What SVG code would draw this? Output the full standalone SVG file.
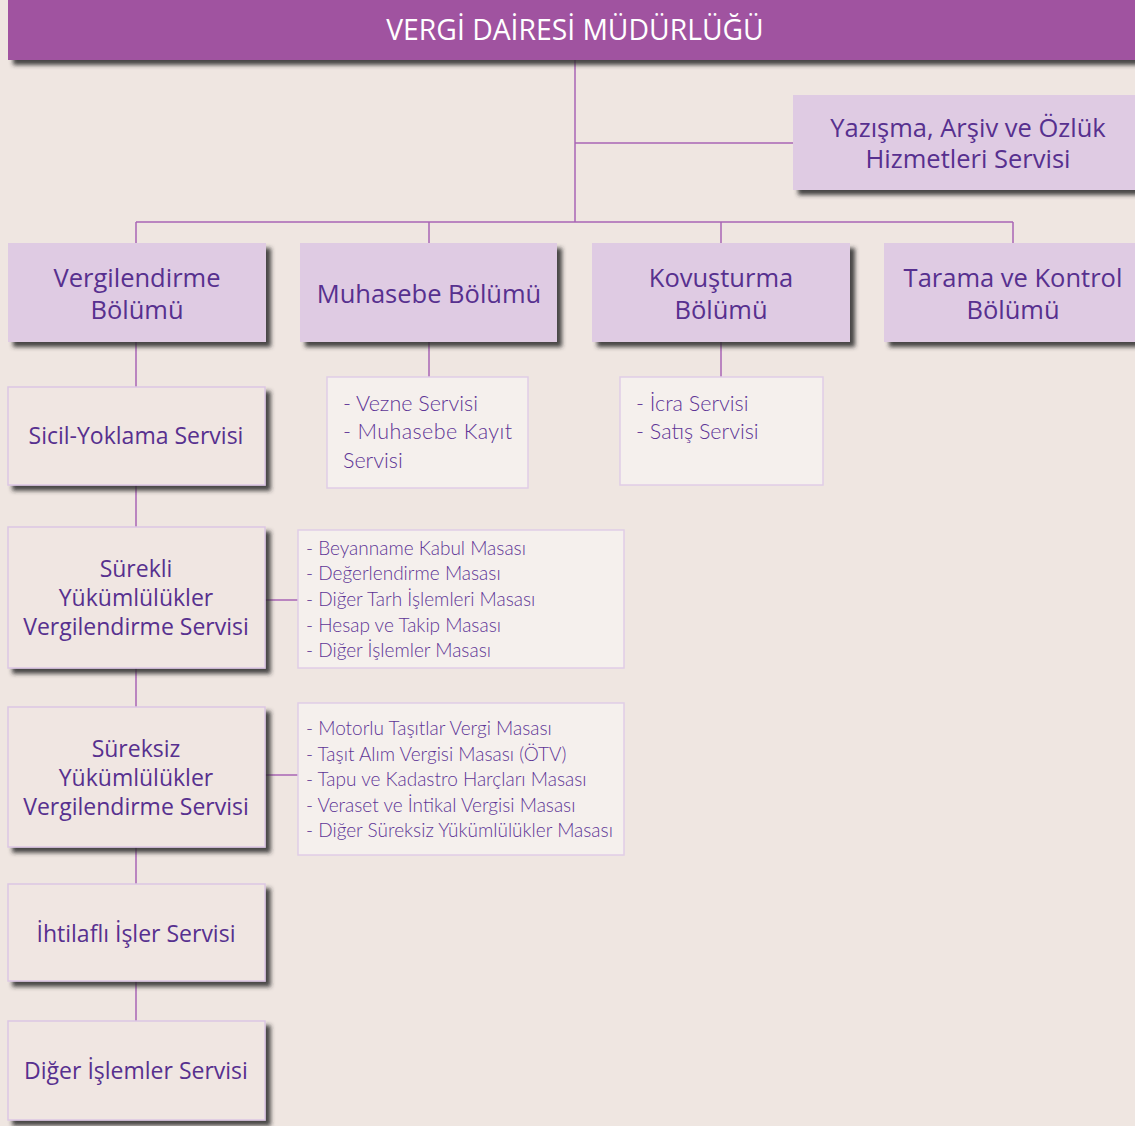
<svg xmlns="http://www.w3.org/2000/svg" width="1135" height="1126" viewBox="0 0 1135 1126">
<defs>
<filter id="sh" x="-5%" y="-10%" width="115%" height="130%">
<feDropShadow dx="5" dy="5" stdDeviation="2" flood-color="#2a2a2a" flood-opacity="0.85"/>
</filter>
<style>
.bg{fill:#efe6e1}
.hdr{fill:#a053a0;filter:url(#sh)}
.dep{fill:#dfcbe3;filter:url(#sh)}
.svc{fill:#f0e6e2;stroke:#dcc6e3;stroke-width:1.5;filter:url(#sh)}
.lst{fill:#f5f0ed;stroke:#e0cde6;stroke-width:1.5}
.t{font-family:"Open Sans","Noto Sans",sans-serif;font-size:23px;fill:#57308f;text-anchor:middle}
.d{font-size:25.5px}
.h{font-family:"Open Sans","Noto Sans",sans-serif;font-size:28.3px;fill:#ffffff;text-anchor:middle}
.l{font-family:Lato,"Noto Sans",sans-serif;font-weight:300;fill:#5e3596}
.l1{font-size:21.5px}
.l2{font-size:19px}
.c line{stroke:#a865b5;stroke-width:1.5}
</style>
</defs>
<rect class="bg" x="0" y="0" width="1135" height="1126"/>
<g class="c" id="connectors">
<line x1="575" y1="60" x2="575" y2="222"/>
<line x1="575" y1="143" x2="793" y2="143"/>
<line x1="136" y1="222" x2="1013" y2="222"/>
<line x1="136" y1="222" x2="136" y2="243"/>
<line x1="429" y1="222" x2="429" y2="243"/>
<line x1="721" y1="222" x2="721" y2="243"/>
<line x1="1013" y1="222" x2="1013" y2="243"/>
<line x1="136" y1="342" x2="136" y2="1021"/>
<line x1="429" y1="342" x2="429" y2="377"/>
<line x1="721" y1="342" x2="721" y2="377"/>
<line x1="265" y1="600" x2="298" y2="600"/>
<line x1="265" y1="775" x2="298" y2="775"/>
</g>
<g id="header"><rect class="hdr" x="8" y="0" width="1130" height="60"/><text class="h" x="575" y="40">VERGİ DAİRESİ MÜDÜRLÜĞÜ</text></g>
<g id="yazisma"><rect class="dep" x="793" y="95" width="345" height="95"/><text class="t d" x="968" y="137">Yazışma, Arşiv ve Özlük</text><text class="t d" x="968" y="168">Hizmetleri Servisi</text></g>
<g id="vergilendirme"><rect class="dep" x="8" y="243" width="258" height="99"/><text class="t d" x="137" y="287">Vergilendirme</text><text class="t d" x="137" y="319">Bölümü</text></g>
<g id="muhasebe"><rect class="dep" x="300" y="243" width="257" height="99"/><text class="t d" x="429" y="303">Muhasebe Bölümü</text></g>
<g id="kovusturma"><rect class="dep" x="592" y="243" width="258" height="99"/><text class="t d" x="721" y="287">Kovuşturma</text><text class="t d" x="721" y="319">Bölümü</text></g>
<g id="tarama"><rect class="dep" x="884" y="243" width="254" height="99"/><text class="t d" x="1013" y="287">Tarama ve Kontrol</text><text class="t d" x="1013" y="319">Bölümü</text></g>
<g id="sicil"><rect class="svc" x="8" y="387" width="257" height="98"/><text class="t" x="136" y="444">Sicil-Yoklama Servisi</text></g>
<g id="surekli"><rect class="svc" x="8" y="527" width="257" height="141"/><text class="t" x="136" y="577">Sürekli</text><text class="t" x="136" y="606">Yükümlülükler</text><text class="t" x="136" y="635">Vergilendirme Servisi</text></g>
<g id="sureksiz"><rect class="svc" x="8" y="707" width="257" height="140"/><text class="t" x="136" y="757">Süreksiz</text><text class="t" x="136" y="786">Yükümlülükler</text><text class="t" x="136" y="815">Vergilendirme Servisi</text></g>
<g id="ihtilafli"><rect class="svc" x="8" y="884" width="257" height="97"/><text class="t" x="136" y="942">İhtilaflı İşler Servisi</text></g>
<g id="diger"><rect class="svc" x="8" y="1021" width="257" height="99"/><text class="t" x="136" y="1079">Diğer İşlemler Servisi</text></g>
<g id="muhasebe-list"><rect class="lst" x="327" y="377" width="201" height="111"/>
<text class="l l1" x="343" y="411">- Vezne Servisi</text>
<text class="l l1" x="343" y="439" textLength="169" lengthAdjust="spacing">- Muhasebe Kayıt</text>
<text class="l l1" x="343" y="468">Servisi</text></g>
<g id="kovusturma-list"><rect class="lst" x="620" y="377" width="203" height="108"/>
<text class="l l1" x="636" y="411">- İcra Servisi</text>
<text class="l l1" x="636" y="439">- Satış Servisi</text></g>
<g id="surekli-list"><rect class="lst" x="298" y="530" width="326" height="138"/>
<text class="l l2" x="306" y="555">- Beyanname Kabul Masası</text>
<text class="l l2" x="306" y="580">- Değerlendirme Masası</text>
<text class="l l2" x="306" y="606">- Diğer Tarh İşlemleri Masası</text>
<text class="l l2" x="306" y="632">- Hesap ve Takip Masası</text>
<text class="l l2" x="306" y="657">- Diğer İşlemler Masası</text></g>
<g id="sureksiz-list"><rect class="lst" x="298" y="703" width="326" height="152"/>
<text class="l l2" x="306" y="735">- Motorlu Taşıtlar Vergi Masası</text>
<text class="l l2" x="306" y="761">- Taşıt Alım Vergisi Masası (ÖTV)</text>
<text class="l l2" x="306" y="786">- Tapu ve Kadastro Harçları Masası</text>
<text class="l l2" x="306" y="812">- Veraset ve İntikal Vergisi Masası</text>
<text class="l l2" x="306" y="837">- Diğer Süreksiz Yükümlülükler Masası</text></g>
</svg>
